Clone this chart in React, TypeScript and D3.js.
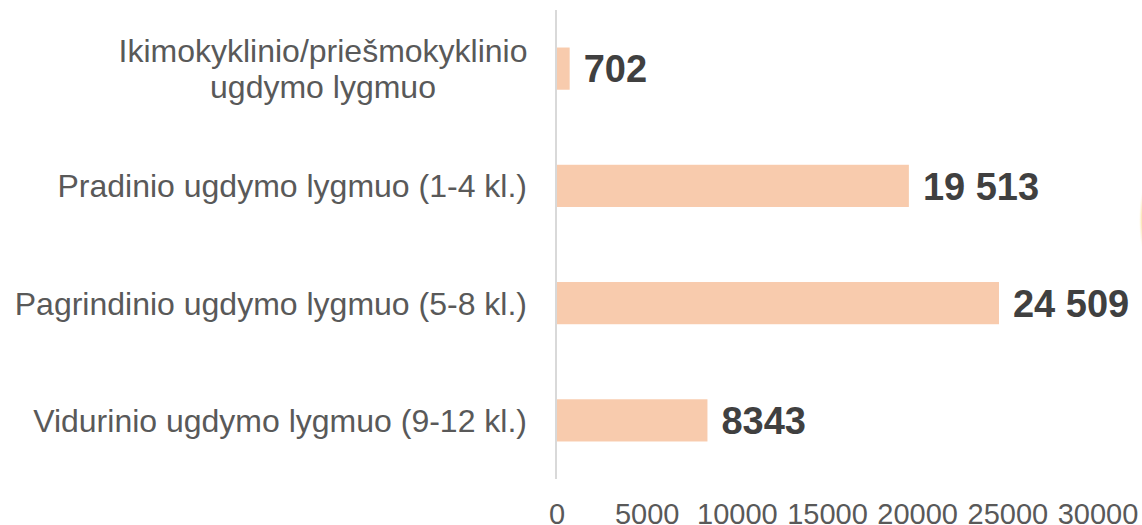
import React from "react";
import * as d3 from "d3";

const categories: string[][] = [
  ["Ikimokyklinio/priešmokyklinio", "ugdymo lygmuo"],
  ["Pradinio ugdymo lygmuo (1-4 kl.)"],
  ["Pagrindinio ugdymo lygmuo (5-8 kl.)"],
  ["Vidurinio ugdymo lygmuo (9-12 kl.)"],
];
const values: number[] = [702, 19513, 24509, 8343];
const valueLabels: string[] = ["702", "19 513", "24 509", "8343"];
const ticks: number[] = [0, 5000, 10000, 15000, 20000, 25000, 30000];

const W = 1142;
const H = 525;

export default function App() {
  const keys = categories.map((c) => c.join(" "));
  const y = d3
    .scaleBand<string>()
    .domain(keys)
    .range([10, 479])
    .paddingInner(0.64)
    .paddingOuter(0.32);
  const x = d3.scaleLinear().domain([0, 30000]).range([557, 1098]);
  const font = "Arial, 'Liberation Sans', sans-serif";

  return (
    <svg
      width={W}
      height={H}
      style={{ position: "absolute", left: 0, top: 0, background: "#fff" }}
      fontFamily={font}
    >
      <defs>
        <radialGradient id="glow" cx="0.5" cy="0.5" r="0.5">
          <stop offset="0" stopColor="#F7C64A" stopOpacity={0.9} />
          <stop offset="0.6" stopColor="#F9D67A" stopOpacity={0.5} />
          <stop offset="1" stopColor="#FCE9B8" stopOpacity={0} />
        </radialGradient>
      </defs>
      <ellipse cx={1145} cy={220} rx={6} ry={34} fill="url(#glow)" />
      {values.map((v, i) => {
        const k = keys[i];
        const y0 = y(k)!;
        return (
          <g key={k}>
            <rect
              x={x(0)}
              y={y0}
              width={x(v) - x(0)}
              height={y.bandwidth()}
              fill="#F8CBAD"
            />
            <text
              x={x(v) + 14}
              y={y0 + y.bandwidth() / 2}
              dy="0.36em"
              fontSize={38}
              fontWeight="bold"
              fill="#404040"
            >
              {valueLabels[i]}
            </text>
          </g>
        );
      })}
      <line x1={556} x2={556} y1={10} y2={479} stroke="#D9D9D9" strokeWidth={2} />
      {categories.map((lines, i) => {
        const k = keys[i];
        const cy = y(k)! + y.bandwidth() / 2;
        const lh = 36;
        const start = cy - ((lines.length - 1) * lh) / 2;
        if (lines.length === 1) {
          return (
            <text
              key={k}
              x={527}
              y={cy}
              dy="0.36em"
              textAnchor="end"
              fontSize={32}
              fill="#595959"
            >
              {lines[0]}
            </text>
          );
        }
        return (
          <text key={k} fontSize={32} fill="#595959" textAnchor="middle">
            {lines.map((l, j) => (
              <tspan key={j} x={323} y={start + j * lh} dy="0.36em">
                {l}
              </tspan>
            ))}
          </text>
        );
      })}
      {ticks.map((t) => (
        <text
          key={t}
          x={x(t)}
          y={524}
          textAnchor="middle"
          fontSize={29}
          fill="#595959"
        >
          {t}
        </text>
      ))}
    </svg>
  );
}
